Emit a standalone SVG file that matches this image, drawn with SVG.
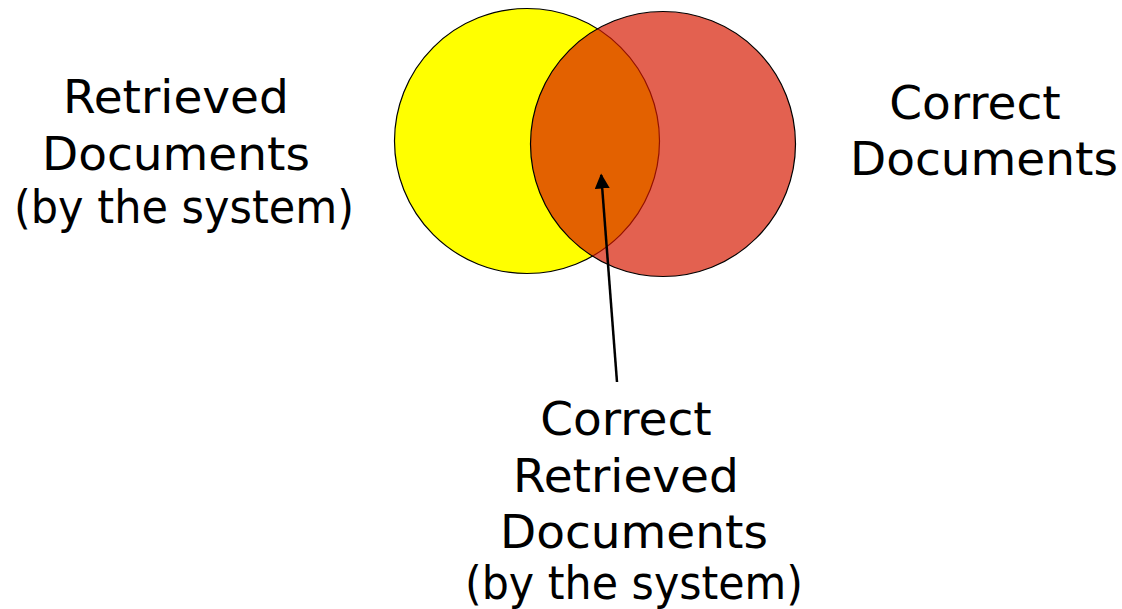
<svg xmlns="http://www.w3.org/2000/svg" width="1122" height="609" viewBox="0 0 1122 609">
<style>
  text { font-family: "DejaVu Sans", Verdana, sans-serif; font-size: 47px; fill: #000; text-anchor: middle; }
  .c { stroke: #000; stroke-width: 1.2; }
</style>
<defs>
  <marker id="ah" viewBox="0 0 10 10" refX="9" refY="5" markerWidth="6" markerHeight="6" orient="auto" markerUnits="strokeWidth">
    <path d="M0,0 L10,5 L0,10 Z" fill="#000"/>
  </marker>
</defs>
<rect width="1122" height="609" fill="#fff"/>
<g id="retrieved">
  <circle class="c" cx="527" cy="141" r="132.5" fill="#FFFF00"/>
</g>
<g id="correct">
  <circle class="c" cx="663" cy="144" r="132.5" fill="#D61900" fill-opacity="0.686"/>
</g>
<g id="connectors">
  <line x1="617" y1="382" x2="601.2" y2="175" stroke="#000" stroke-width="2.5" marker-end="url(#ah)"/>
</g>
<g id="label-retrieved">
  <text x="176" y="113">Retrieved</text>
  <text x="176" y="170">Documents</text>
  <text x="184" y="223" textLength="340" lengthAdjust="spacingAndGlyphs">(by the system)</text>
</g>
<g id="label-correct">
  <text x="975" y="119">Correct</text>
  <text x="984" y="175">Documents</text>
</g>
<g id="label-intersection">
  <text x="626" y="435">Correct</text>
  <text x="626" y="492">Retrieved</text>
  <text x="634" y="548">Documents</text>
  <text x="634" y="599" textLength="338" lengthAdjust="spacingAndGlyphs">(by the system)</text>
</g>
</svg>
